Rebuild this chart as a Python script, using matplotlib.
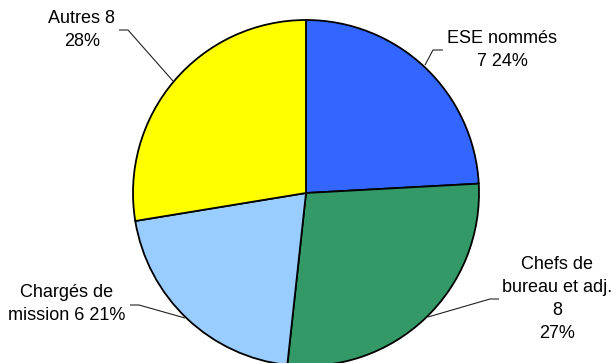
import matplotlib
matplotlib.use("Agg")
import matplotlib.pyplot as plt

# ---- data --------------------------------------------------------------- #
categories = ["ESE nommés", "Chefs de bureau et adj.", "Chargés de mission", "Autres"]
values = [7, 8, 6, 8]
pct_labels = ["24%", "27%", "21%", "28%"]
label_texts = [
    "ESE nommés\n7 24%",
    "Chefs de\nbureau et adj.\n8\n27%",
    "Chargés de\nmission 6 21%",
    "Autres 8\n28%",
]
colors = ["#3366FF", "#339966", "#99CCFF", "#FFFF00"]

# ---- layout (pixel coords, y measured from top) ------------------------- #
W, H = 613, 363
CENTER = (306, 193)
RADIUS = 173
label_pos = [(502, 50), (557, 299), (67, 304), (82, 30)]
leaders = [
    [(425, 65), (433, 50), (443, 50)],
    [(428, 317), (490, 299), (499, 299)],
    [(185, 318), (139, 305), (130, 305)],
    [(173, 81), (128, 30), (119, 30)],
]

plt.rcParams.update({
    "font.family": ["Liberation Sans", "DejaVu Sans"],
})

fig = plt.figure(figsize=(W / 100, H / 100), dpi=100)
ax = fig.add_axes([0, 0, 1, 1])


def fy(y):
    return H - y


ax.pie(values, colors=colors, startangle=90, counterclock=False,
       center=(CENTER[0], fy(CENTER[1])), radius=RADIUS,
       wedgeprops=dict(edgecolor="black", linewidth=1.3))

for pts in leaders:
    ax.plot([p[0] for p in pts], [fy(p[1]) for p in pts],
            color="#222222", lw=0.8, solid_capstyle="butt")

for txt, (x, y) in zip(label_texts, label_pos):
    ax.text(x, fy(y), txt, ha="center", va="center", fontsize=13,
            linespacing=1.45, color="black")

ax.set_xlim(0, W)
ax.set_ylim(0, H)
ax.set_aspect("equal")
ax.axis("off")

fig.savefig("out.png", dpi=100)
